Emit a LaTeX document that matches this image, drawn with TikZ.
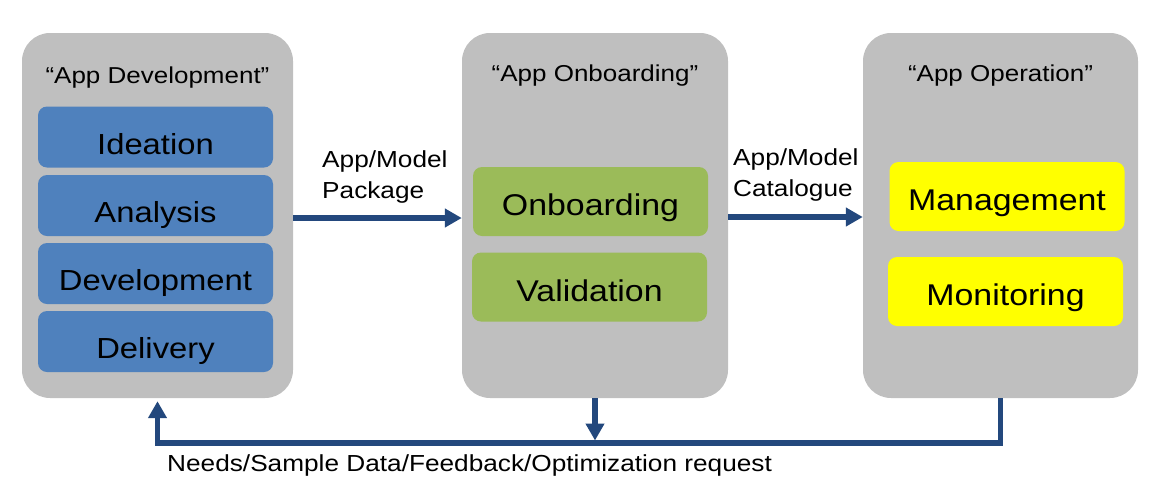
\documentclass[tikz,border=0pt]{standalone}
\usepackage{fontspec}
\setmainfont{Liberation Sans}[FakeStretch=1.13]
\usetikzlibrary{arrows.meta}

\definecolor{panelgrey}{HTML}{BFBFBF}
\definecolor{stepblue}{HTML}{4F81BD}
\definecolor{stepgreen}{HTML}{9BBB59}
\definecolor{stepyellow}{HTML}{FFFF00}
\definecolor{flowblue}{HTML}{23487D}

\begin{document}
\begin{tikzpicture}[x=1pt,y=-1pt,
  panel/.style={fill=panelgrey, rounded corners=28pt, inner sep=0pt,
    minimum height=365pt},
  title/.style={font=\fontsize{23}{27}\selectfont, inner sep=0pt},
  stepbox/.style={rounded corners=9pt, inner sep=0pt, text=black, text depth=0pt},
  devbox/.style={stepbox, fill=stepblue, minimum width=235pt, minimum height=61pt,
    text height=34pt, font=\fontsize{29}{34}\selectfont},
  onbbox/.style={stepbox, fill=stepgreen, minimum width=235pt, minimum height=69pt,
    text height=28pt, font=\fontsize{30}{35}\selectfont},
  opsbox/.style={stepbox, fill=stepyellow, minimum width=235pt, minimum height=69pt,
    text height=28pt, font=\fontsize{30}{35}\selectfont},
  flowlabel/.style={font=\fontsize{23.2}{30.5}\selectfont, inner sep=0pt, align=left},
  flow/.style={draw=flowblue, line width=5.5pt,
    -{Triangle[length=17pt,width=18pt]}}
]
\useasboundingbox (0,0) rectangle (1152,480);

% three stage panels
\node[panel, minimum width=271pt] (dev) at (157.5,215.5) {};
\node[panel, minimum width=266pt] (onb) at (595,215.5) {};
\node[panel, minimum width=275pt] (ops) at (1000.5,215.5) {};

% panel titles
\node[title] (devtitle) at (157.5,77.5) {“App Development”};
\node[title] (onbtitle) at (595,76) {“App Onboarding”};
\node[title] (opstitle) at (1000.5,76) {“App Operation”};

% development steps
\node[devbox] (ideation) at (155.5,137) {Ideation};
\node[devbox] (analysis) at (155.5,205.5) {Analysis};
\node[devbox] (development) at (155.5,273.5) {Development};
\node[devbox] (delivery) at (155.5,341.5) {Delivery};

% onboarding steps
\node[onbbox] (onboarding) at (590.5,201.5) {Onboarding};
\node[onbbox] (validation) at (589.5,287) {Validation};

% operation steps
\node[opsbox] (management) at (1007,196.5) {Management};
\node[opsbox] (monitoring) at (1005.5,291.5) {Monitoring};

% forward flows (base anchor sits on the last line)
\draw[flow] ([yshift=-2.5pt]dev.east) -- ([yshift=-2.5pt]onb.west);
\node[flowlabel, anchor=base west] (pkg) at (322,198) {App/Model\\Package};

\draw[flow] ([yshift=-1.5pt]onb.east) -- ([yshift=-1.5pt]ops.west);
\node[flowlabel, anchor=base west] (cat) at (733,196) {App/Model\\Catalogue};

% feedback loop
\coordinate (fbL) at (157.5,443);
\draw[flow, shorten >=3pt] (ops.south) |- (fbL) -- (dev.south);
\draw[flow, shorten >=2.5pt] (onb.south) -- (onb.south |- fbL);
\node[flowlabel, anchor=base west] (fb) at (167,471.5)
  {Needs/Sample Data/Feedback/Optimization request};
\end{tikzpicture}
\end{document}
